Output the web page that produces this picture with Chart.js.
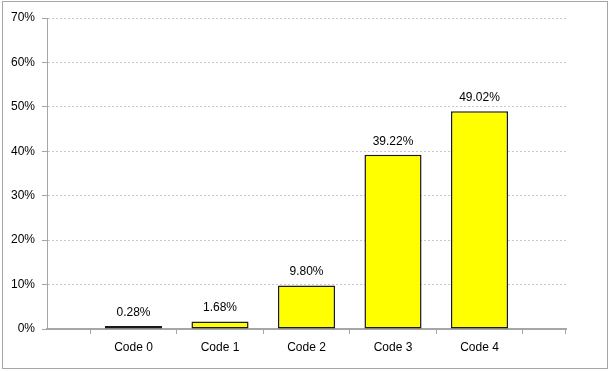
<!DOCTYPE html>
<html>
<head>
<meta charset="utf-8">
<script src="https://cdn.jsdelivr.net/npm/chart.js@4.4.1/dist/chart.umd.min.js"></script>
<style>
  html, body { margin: 0; padding: 0; background: #fff; }
  #wrap { position: relative; width: 610px; height: 371px; }
</style>
</head>
<body>
<div id="wrap"><canvas id="chart"></canvas></div>
<script>
// empty slots at both ends keep the half-category gap Excel leaves
const categories = ['', 'Code 0', 'Code 1', 'Code 2', 'Code 3', 'Code 4', ''];
const shares = [null, 0.28, 1.68, 9.80, 39.22, 49.02, null];
const yMax = 70;
const yStep = 10;

const FONT = '"Liberation Sans", Arial, sans-serif';

// grey frame round the whole chart
const framePlugin = {
  id: 'frame',
  beforeDraw(chart) {
    const ctx = chart.ctx;
    ctx.save();
    ctx.fillStyle = '#fff';
    ctx.fillRect(0, 0, chart.width, chart.height);
    ctx.strokeStyle = '#a6a6a6';
    ctx.lineWidth = 1;
    ctx.strokeRect(2.5, 1.5, 605, 367);
    ctx.restore();
  },
  afterDraw(chart) {
    // closing tick at the right end of the category axis
    const x = chart.scales.x;
    const ctx = chart.ctx;
    ctx.save();
    ctx.strokeStyle = '#a6a6a6';
    ctx.lineWidth = 1;
    ctx.beginPath();
    ctx.moveTo(Math.round(x.right) - 0.5, x.top);
    ctx.lineTo(Math.round(x.right) - 0.5, x.top + 5);
    ctx.stroke();
    ctx.restore();
  }
};

// percentage labels above each bar
const valueLabelPlugin = {
  id: 'valueLabels',
  afterDatasetsDraw(chart) {
    const ctx = chart.ctx;
    const meta = chart.getDatasetMeta(0);
    ctx.save();
    ctx.font = '12px ' + FONT;
    ctx.fillStyle = '#000';
    ctx.textAlign = 'center';
    ctx.textBaseline = 'middle';
    meta.data.forEach((bar, i) => {
      const v = shares[i];
      if (v === null) return;
      ctx.fillText(v.toFixed(2) + '%', bar.x, bar.y - 13.5);
    });
    ctx.restore();
  }
};

new Chart(document.getElementById('chart'), {
  type: 'bar',
  data: {
    labels: categories,
    datasets: [{
      data: shares,
      backgroundColor: '#ffff00',
      borderColor: '#1a1a1a',
      borderWidth: 1.5,
      borderSkipped: false,
      minBarLength: 3,
      barPercentage: 0.66,
      categoryPercentage: 1
    }]
  },
  options: {
    responsive: true,
    maintainAspectRatio: false,
    animation: false,
    layout: { padding: { left: 0, top: 18, right: 44, bottom: 0 } },
    plugins: {
      legend: { display: false },
      tooltip: { enabled: false }
    },
    scales: {
      x: {
        offset: false,
        grid: {
          offset: true,
          drawOnChartArea: false,
          tickLength: 5,
          tickColor: '#a6a6a6'
        },
        border: { color: '#a6a6a6', width: 2 },
        ticks: {
          autoSkip: false,
          maxRotation: 0,
          padding: 6,
          color: '#000',
          font: { family: FONT, size: 12 }
        },
        afterFit(scale) { scale.height = 42; }
      },
      y: {
        min: 0,
        max: yMax,
        grid: {
          color: '#c8c8c8',
          tickColor: '#a6a6a6',
          tickLength: 5,
          tickBorderDash: []
        },
        border: { color: '#a6a6a6', width: 1, dash: [2, 2] },
        ticks: {
          stepSize: yStep,
          padding: 7,
          color: '#000',
          font: { family: FONT, size: 12 },
          callback: (v) => v + '%'
        },
        afterFit(scale) { scale.width = 47; }
      }
    }
  },
  plugins: [framePlugin, valueLabelPlugin]
});
</script>
</body>
</html>
